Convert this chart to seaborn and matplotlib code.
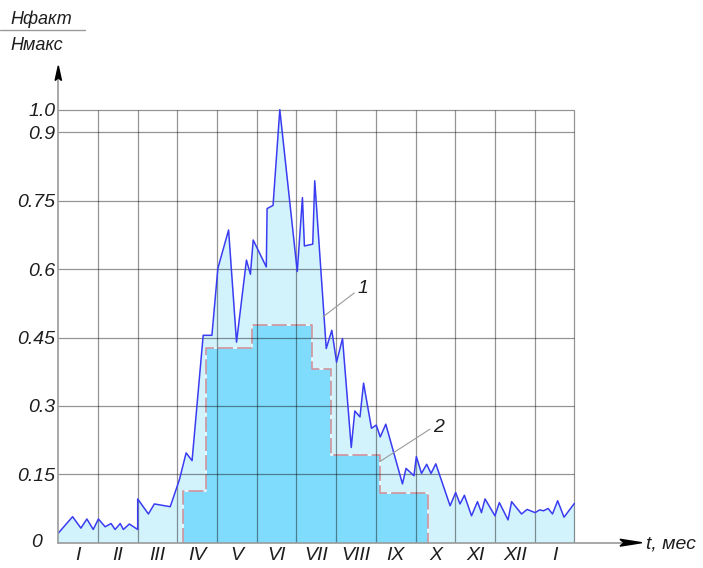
import numpy as np
import pandas as pd
import matplotlib
matplotlib.use("Agg")
import matplotlib.pyplot as plt
import seaborn as sns
from matplotlib.patches import Polygon

# ---------------- data ----------------
months = ["I", "II", "III", "IV", "V", "VI", "VII", "VIII", "IX", "X", "XI", "XII", "I"]

# curve 1: actual relative level (t in months from start)
t1 = [0.0, 0.36, 0.57, 0.72, 0.88, 1.01, 1.18, 1.33, 1.43, 1.56, 1.64, 1.79, 2.0, 2.0,
      2.27, 2.42, 2.82, 3.05, 3.22, 3.37, 3.65, 3.87, 4.02, 4.29, 4.49, 4.74, 4.84,
      4.91, 5.24, 5.26, 5.41, 5.58, 6.02, 6.15, 6.2, 6.41, 6.46, 6.75, 6.89, 7.01,
      7.16, 7.38, 7.47, 7.6, 7.69, 7.89, 8.01, 8.11, 8.25, 8.67, 8.76, 8.96, 9.02,
      9.15, 9.28, 9.39, 9.51, 9.87, 10.01, 10.12, 10.23, 10.41, 10.56, 10.66, 10.75,
      11.0, 11.11, 11.33, 11.42, 11.67, 11.81, 12.01, 12.13, 12.22, 12.34, 12.45,
      12.58, 12.74, 13.0]
h1 = [0.021, 0.057, 0.032, 0.052, 0.029, 0.052, 0.035, 0.042, 0.029, 0.042, 0.029,
      0.041, 0.029, 0.096, 0.063, 0.085, 0.079, 0.138, 0.197, 0.180, 0.455, 0.455,
      0.602, 0.686, 0.440, 0.620, 0.589, 0.664, 0.605, 0.733, 0.740, 1.0, 0.595,
      0.757, 0.651, 0.655, 0.794, 0.426, 0.466, 0.396, 0.448, 0.209, 0.289, 0.276,
      0.350, 0.251, 0.258, 0.232, 0.260, 0.129, 0.163, 0.147, 0.189, 0.152, 0.172,
      0.152, 0.173, 0.081, 0.110, 0.085, 0.104, 0.059, 0.090, 0.066, 0.096, 0.059,
      0.088, 0.050, 0.090, 0.063, 0.073, 0.066, 0.072, 0.070, 0.075, 0.063, 0.092,
      0.056, 0.086]

# curve 2: stepped level
t2 = [3.15, 3.71, 4.87, 6.38, 6.87, 8.10, 9.32]
h2 = [0.114, 0.428, 0.478, 0.380, 0.192, 0.110, 0.110]

yticks = [0.15, 0.3, 0.45, 0.6, 0.75, 0.9, 1.0]
ytick_labels = ["0.15", "0.3", "0.45", "0.6", "0.75", "0.9", "1.0"]

df1 = pd.DataFrame({"t": t1, "h": h1})

# ---------------- style ----------------
sns.set_style("white")
plt.rcParams["font.family"] = ["Liberation Sans", "DejaVu Sans"]

LIGHT = "#d2f3fc"
DARK = "#80dcfc"
LINE = "#3a3cf2"
AXC = "#9a9a9a"
TXT = "#1e1e1e"

fig = plt.figure(figsize=(7.03, 5.68), dpi=100)
ax = fig.add_axes([58.3 / 703, 25.3 / 568, (645 - 58.3) / 703, (508 - 25.3) / 568])


def fwd(v):
    v = np.asarray(v, float)
    return np.where(v <= 0.9, v, 0.9 + (v - 0.9) * 0.5)


def inv(v):
    v = np.asarray(v, float)
    return np.where(v <= 0.9, v, 0.9 + (v - 0.9) * 2.0)


ax.set_yscale("function", functions=(fwd, inv))
ax.set_xlim(0, 14.78)
ax.set_ylim(0, 1.218)

# fills
ax.fill_between(df1["t"], df1["h"], 0, color=LIGHT, lw=0, zorder=1)
ax.fill_between(t2, h2, 0, step="post", color=DARK, lw=0, zorder=2)

# step outline (dashed)
ox = [t2[0]] + t2 + [t2[-1]]
oy = [0] + h2 + [0]
ax.plot(ox, oy, drawstyle="steps-post", color="#d4939b", lw=1.2,
        dashes=(9, 2.5), gapcolor="#eefaff", zorder=3)

# grid
ax.hlines(yticks, 0, 13, color="black", alpha=0.42, lw=0.9, zorder=3.5)
ax.vlines(np.arange(1, 14), 0, 1.0, color="black", alpha=0.42, lw=0.9, zorder=3.5)

# curve 1
sns.lineplot(data=df1, x="t", y="h", estimator=None, sort=False, color=LINE,
             lw=1.1, ax=ax, zorder=4)

# axes with arrows
ax.plot([0, 14.2], [0, 0], color=AXC, lw=1.2, clip_on=False, zorder=5)
ax.plot([0, 0], [0, 1.14], color=AXC, lw=1.2, clip_on=False, zorder=5)
ax.add_patch(Polygon([[14.15, -0.0075], [14.70, 0.0], [14.15, 0.0075], [14.25, 0.0]],
                     closed=True, color="black", clip_on=False, zorder=6))
ax.add_patch(Polygon([[-0.08, 1.128], [0.0, 1.192], [0.08, 1.128], [0.0, 1.14]],
                     closed=True, color="black", clip_on=False, zorder=6))

# ticks
ax.set_xticks(np.arange(13) + 0.5, labels=months)
ax.set_yticks(yticks, labels=ytick_labels)
ax.tick_params(axis="both", length=0, labelsize=14, colors=TXT)
ax.tick_params(axis="x", pad=3)
ax.tick_params(axis="y", pad=2)
for lbl in ax.get_xticklabels() + ax.get_yticklabels():
    lbl.set_fontstyle("italic")
for s in ax.spines.values():
    s.set_visible(False)
ax.set_xlabel("")
ax.set_ylabel("")

ax.text(-0.537, 0.0, "0", ha="center", va="center", fontsize=14,
        fontstyle="italic", color=TXT, clip_on=False)
ax.text(14.80, -0.012, "t, мес", ha="left", va="baseline", fontsize=14,
        fontstyle="italic", color=TXT, clip_on=False)

# annotations
ax.plot([6.675, 7.456], [0.496, 0.548], color="#9a9a9a", lw=0.8, zorder=5)
ax.text(7.68, 0.558, "1", ha="center", va="center", fontsize=14,
        fontstyle="italic", color=TXT, zorder=6)
ax.plot([8.10, 9.36], [0.178, 0.249], color="#9a9a9a", lw=0.8, zorder=5)
ax.text(9.58, 0.252, "2", ha="center", va="center", fontsize=14,
        fontstyle="italic", color=TXT, zorder=6)

# y-axis label as a fraction
fig.text(10 / 703, 544 / 568, "Hфакт", ha="left", va="baseline", fontsize=13,
         fontstyle="italic", color=TXT)
fig.add_artist(plt.Line2D([0, 85 / 703], [538 / 568, 538 / 568], color=AXC, lw=1.0))
fig.text(10 / 703, 518 / 568, "Hмакс", ha="left", va="baseline", fontsize=13,
         fontstyle="italic", color=TXT)

fig.savefig("out.png", dpi=100)
